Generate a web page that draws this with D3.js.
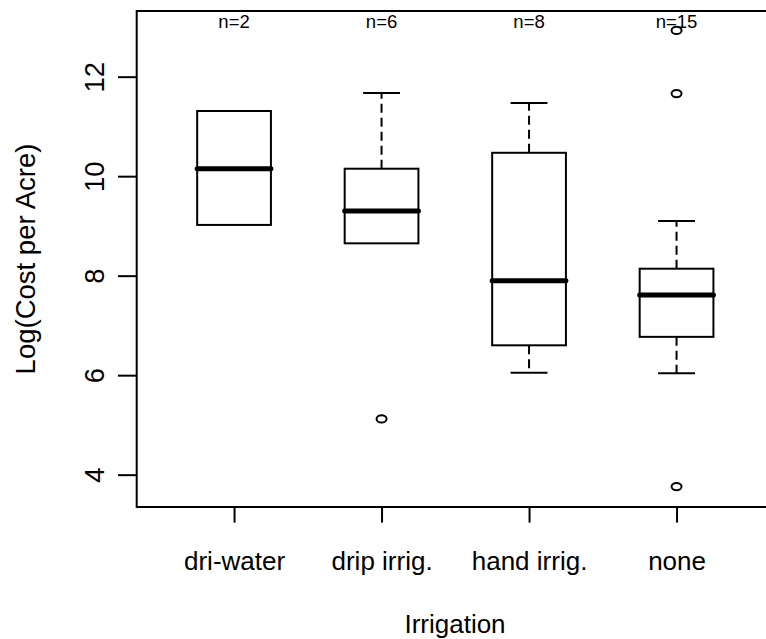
<!DOCTYPE html>
<html>
<head>
<meta charset="utf-8">
<script src="https://cdn.jsdelivr.net/npm/d3@7"></script>
<style>
  html, body { margin: 0; padding: 0; background: #fff; }
  svg { display: block; }
  text { font-family: "Liberation Sans", Arial, Helvetica, sans-serif; fill: #000; }
</style>
</head>
<body>
<div id="chart"></div>
<script>
// ---- data ----
const categories = ["dri-water", "drip irrig.", "hand irrig.", "none"];
const counts = [2, 6, 8, 15];
const whiskerLow = [9.02, 8.65, 6.05, 6.04];
const q1 = [9.02, 8.65, 6.60, 6.77];
const medians = [10.15, 9.30, 7.90, 7.61];
const q3 = [11.31, 10.15, 10.47, 8.14];
const whiskerHigh = [11.31, 11.67, 11.47, 9.10];
const outliers = [[], [5.12], [], [3.76, 11.66, 12.93]];
const yTicks = [4, 6, 8, 10, 12];
const xTitle = "Irrigation";
const yTitle = "Log(Cost per Acre)";

// ---- layout ----
const W = 766, H = 639;
const svg = d3.select("#chart").append("svg").attr("width", W).attr("height", H);

const plot = { left: 136.7, right: 773.9, top: 11, bottom: 507 };

const x = d3.scaleLinear().domain([0.34, 4.66]).range([plot.left, plot.right]);
const y = d3.scaleLinear().domain([3.35, 13.32]).range([plot.bottom, plot.top]);

const boxHalf = 0.25, stapleHalf = 0.125;
const stroke = "#000";
const FS = 26, FSR = 27.5;
const g = svg.append("g");

function line(x1, y1, x2, y2, w, dash, cap) {
  return g.append("line")
    .attr("x1", x1).attr("y1", y1).attr("x2", x2).attr("y2", y2)
    .attr("stroke", stroke).attr("stroke-width", w)
    .attr("stroke-dasharray", dash || null)
    .attr("stroke-linecap", cap || "butt");
}

categories.forEach((c, i) => {
  const cx = x(i + 1);
  if (whiskerHigh[i] > q3[i]) {
    line(cx, y(q3[i]), cx, y(whiskerHigh[i]), 2, "9,5");
    line(x(i + 1 - stapleHalf), y(whiskerHigh[i]), x(i + 1 + stapleHalf), y(whiskerHigh[i]), 2);
  }
  if (whiskerLow[i] < q1[i]) {
    line(cx, y(q1[i]), cx, y(whiskerLow[i]), 2, "9,5");
    line(x(i + 1 - stapleHalf), y(whiskerLow[i]), x(i + 1 + stapleHalf), y(whiskerLow[i]), 2);
  }
  g.append("rect")
    .attr("x", x(i + 1 - boxHalf)).attr("y", y(q3[i]))
    .attr("width", x(i + 1 + boxHalf) - x(i + 1 - boxHalf))
    .attr("height", y(q1[i]) - y(q3[i]))
    .attr("fill", "none").attr("stroke", stroke).attr("stroke-width", 2);
  line(x(i + 1 - boxHalf), y(medians[i]), x(i + 1 + boxHalf), y(medians[i]), 5, null, "round");
  g.selectAll(null).data(outliers[i]).enter().append("ellipse")
    .attr("cx", cx).attr("cy", d => y(d)).attr("rx", 5).attr("ry", 3.6)
    .attr("fill", "none").attr("stroke", stroke).attr("stroke-width", 2);
  g.append("text").attr("x", cx).attr("y", 28.3)
    .attr("text-anchor", "middle").attr("font-size", 18.5)
    .text("n=" + counts[i]);
});

// frame
g.append("rect")
  .attr("x", plot.left).attr("y", plot.top)
  .attr("width", plot.right - plot.left).attr("height", plot.bottom - plot.top)
  .attr("fill", "none").attr("stroke", stroke).attr("stroke-width", 2);

// y axis
const yAxis = g.append("g").attr("transform", `translate(${plot.left},0)`)
  .call(d3.axisLeft(y).tickValues(yTicks).tickSize(18.7).tickFormat(d3.format("d")));
yAxis.select(".domain").remove();
yAxis.attr("font-family", null).attr("font-size", null);
yAxis.selectAll(".tick line").attr("stroke", stroke).attr("stroke-width", 2);
yAxis.selectAll(".tick text")
  .attr("x", null).attr("dy", null)
  .attr("font-size", FSR)
  .attr("text-anchor", "middle")
  .attr("transform", `translate(${103.5 - plot.left},0) rotate(-90)`);

// x axis
const xAxis = g.append("g").attr("transform", `translate(0,${plot.bottom})`)
  .call(d3.axisBottom(x).tickValues([1, 2, 3, 4]).tickSize(15.6)
    .tickFormat(d => categories[d - 1]));
xAxis.select(".domain").remove();
xAxis.attr("font-family", null).attr("font-size", null);
xAxis.selectAll(".tick line").attr("stroke", stroke).attr("stroke-width", 2);
xAxis.selectAll(".tick text")
  .attr("y", 570 - plot.bottom).attr("dy", null)
  .attr("font-size", FS);

// titles
g.append("text").attr("x", 455).attr("y", 633)
  .attr("text-anchor", "middle").attr("font-size", FS).text(xTitle);
g.append("text")
  .attr("transform", `translate(35,${(plot.top + plot.bottom) / 2}) rotate(-90)`)
  .attr("text-anchor", "middle").attr("font-size", FSR).text(yTitle);
</script>
</body>
</html>
